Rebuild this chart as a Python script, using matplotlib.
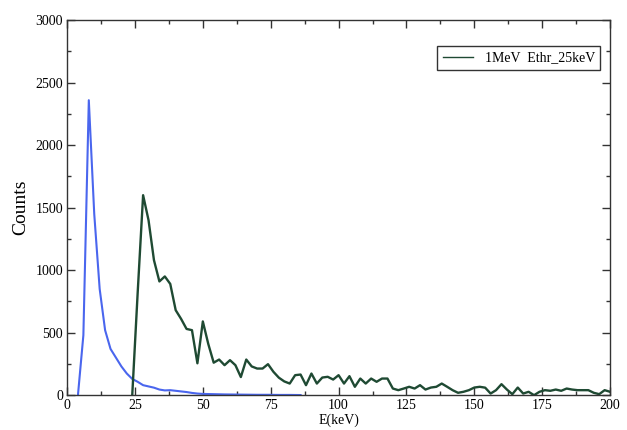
import numpy as np
import matplotlib
matplotlib.use("Agg")
import matplotlib.pyplot as plt
from matplotlib.ticker import MultipleLocator

plt.rcParams['font.family'] = ['Liberation Serif', 'DejaVu Serif']

# Energy spectrum without threshold (blue)
e_blue = [4, 6, 8, 10, 12, 14, 16, 18, 20, 22, 24, 26, 28, 30, 32, 34, 36, 38,
          40, 42, 44, 46, 48, 50, 54, 58, 62, 66, 70, 74, 78, 82, 86]
c_blue = [0, 480, 2360, 1450, 850, 520, 370, 300, 230, 173, 130, 107, 80, 70,
          60, 45, 38, 40, 35, 30, 25, 18, 13, 10, 8, 6, 5, 4, 3, 3, 2, 2, 1]

# Energy spectrum with 25 keV threshold (green)
e_green = list(range(24, 201, 2))
c_green = [0, 820, 1600, 1400, 1080, 910, 950, 890, 680, 610, 530, 520, 255,
           590, 410, 260, 285, 240, 280, 240, 145, 285, 230, 213, 213, 248,
           187, 140, 110, 93, 160, 165, 80, 173, 93, 141, 147, 125, 160, 93,
           152, 67, 133, 93, 133, 107, 133, 133, 53, 40, 53, 67, 53, 80, 45,
           61, 67, 93, 67, 40, 19, 27, 40, 61, 67, 60, 13, 40, 88, 45, 8, 61,
           13, 27, 0, 27, 40, 35, 45, 35, 53, 45, 40, 40, 40, 19, 8, 40, 27]

legend_label = "1MeV  Ethr_25keV"

fig = plt.figure(figsize=(6.27, 4.30), dpi=100)
ax = fig.add_axes([0.107, 0.081, 0.866, 0.872])

ax.plot(e_blue, c_blue, color="#4a66ee", lw=1.5)
ax.plot(e_green, c_green, color="#1f4a33", lw=1.7, label=legend_label)

ax.set_xlim(0, 200)
ax.set_ylim(0, 3000)
ax.xaxis.set_major_locator(MultipleLocator(25))
ax.xaxis.set_minor_locator(MultipleLocator(12.5))
ax.yaxis.set_major_locator(MultipleLocator(500))
ax.yaxis.set_minor_locator(MultipleLocator(250))
ax.tick_params(which="both", direction="in", top=True, right=True,
               color="#333333", labelsize=10, width=1.0)
ax.tick_params(which="major", length=6, pad=3)
ax.tick_params(which="minor", length=3)
for s in ax.spines.values():
    s.set_color("#333333")
    s.set_linewidth(1.0)

ax.set_xlabel("E(keV)", fontsize=10, labelpad=1)
ax.set_ylabel("Counts", fontsize=14, labelpad=4)

leg = ax.legend(loc="upper right", bbox_to_anchor=(0.995, 0.95), fontsize=10,
                fancybox=False, framealpha=1, edgecolor="#333333",
                handlelength=2.2, borderpad=0.4)
leg.get_frame().set_linewidth(1.0)
for h in leg.get_lines():
    h.set_linewidth(1.0)

fig.savefig("out.png", dpi=100)
